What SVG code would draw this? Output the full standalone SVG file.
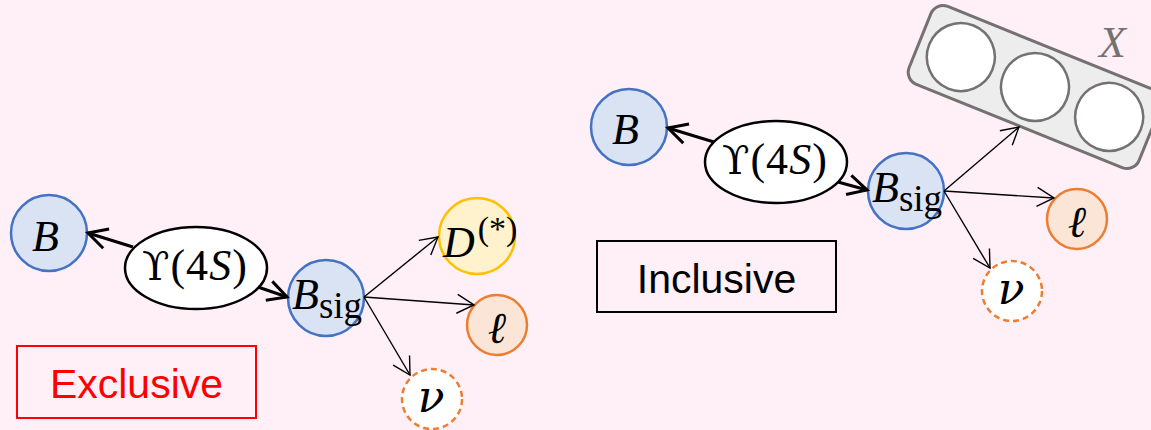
<svg xmlns="http://www.w3.org/2000/svg" width="1151" height="430" viewBox="0 0 1151 430">
  <style>
    .bmeson { fill: #DAE3F3; stroke: #4472C4; stroke-width: 2.5; }
    .upsilon { fill: #FFFFFF; stroke: #000000; stroke-width: 2.5; }
    .dmeson { fill: #FFF2CC; stroke: #FFC000; stroke-width: 2.5; }
    .lepton { fill: #FBE5D6; stroke: #ED7D31; stroke-width: 2.5; }
    .nu { fill: #FFFFFF; stroke: #ED7D31; stroke-width: 2.5; stroke-dasharray: 6 4; }
    .math { font-family: "Liberation Serif", "DejaVu Serif", serif; font-size: 44px; fill: #000000; }
    .it { font-style: italic; }
    .greek { font-family: "DejaVu Serif", serif; }
    .thick { fill: none; stroke: #000000; stroke-width: 3; marker-end: url(#headThick); }
    .thin { fill: none; stroke: #000000; stroke-width: 1.4; marker-end: url(#headThin); }
    .label { font-family: "Liberation Sans", Arial, sans-serif; font-size: 41px; text-anchor: middle; }
  </style>
  <defs>
    <marker id="headThick" markerUnits="userSpaceOnUse" markerWidth="30" markerHeight="30" viewBox="-25 -15 30 30" refX="0" refY="0" orient="auto" overflow="visible">
      <path d="M-19,-10 L0,0 L-19,10" fill="none" stroke="#000000" stroke-width="3" stroke-linejoin="miter"/>
    </marker>
    <marker id="headThin" markerUnits="userSpaceOnUse" markerWidth="30" markerHeight="30" viewBox="-25 -15 30 30" refX="0" refY="0" orient="auto" overflow="visible">
      <path d="M-17,-9.5 L0,0 L-17,9.5" fill="none" stroke="#000000" stroke-width="1.4"/>
    </marker>
  </defs>

  <rect x="0" y="0" width="1151" height="430" fill="#FFF0F8"/>

  <!-- Exclusive decay -->
  <g id="ex-B">
    <circle class="bmeson" cx="49" cy="233" r="38"/>
    <text class="math it" x="32" y="251">B</text>
  </g>
  <g id="ex-Y4S">
    <ellipse class="upsilon" cx="196" cy="268" rx="71" ry="41"/>
    <text class="math" x="142" y="280" letter-spacing="1"><tspan class="greek" font-size="40">ϒ</tspan>(4<tspan class="it">S</tspan>)</text>
  </g>
  <g id="ex-Bsig">
    <circle class="bmeson" cx="326" cy="298" r="38"/>
    <text class="math" x="292" y="309"><tspan class="it">B</tspan><tspan font-size="37" dy="9">sig</tspan></text>
  </g>
  <g id="ex-D">
    <circle class="dmeson" cx="477" cy="236" r="38"/>
    <text class="math" x="443" y="257"><tspan class="it">D</tspan><tspan font-size="34" dy="-17" dx="3">(*)</tspan></text>
  </g>
  <g id="ex-lepton">
    <circle class="lepton" cx="497" cy="325" r="30"/>
    <text class="math it" x="497" y="343" text-anchor="middle">ℓ</text>
  </g>
  <g id="ex-nu">
    <circle class="nu" cx="432" cy="399" r="30"/>
    <text class="math it greek" x="431" y="412" text-anchor="middle" font-size="40">ν</text>
  </g>
  <g id="ex-label">
    <rect x="17" y="346" width="239" height="72" fill="none" stroke="#FF0000" stroke-width="2"/>
    <text class="label" x="136.5" y="398" fill="#FF0000">Exclusive</text>
  </g>

  <!-- Inclusive decay -->
  <g id="in-B">
    <circle class="bmeson" cx="629" cy="127" r="38"/>
    <text class="math it" x="612" y="144">B</text>
  </g>
  <g id="in-Y4S">
    <ellipse class="upsilon" cx="776" cy="162" rx="71" ry="41"/>
    <text class="math" x="722" y="174" letter-spacing="1"><tspan class="greek" font-size="40">ϒ</tspan>(4<tspan class="it">S</tspan>)</text>
  </g>
  <g id="in-Bsig">
    <circle class="bmeson" cx="906" cy="191" r="38"/>
    <text class="math" x="872" y="202"><tspan class="it">B</tspan><tspan font-size="37" dy="9">sig</tspan></text>
  </g>
  <g id="in-X">
    <g transform="translate(1035,87) rotate(22)">
      <rect x="-124" y="-42" width="248" height="84" rx="13" fill="#EDEDED" stroke="#767171" stroke-width="3"/>
      <circle cx="-80" cy="0" r="34" fill="#FFFFFF" stroke="#767171" stroke-width="2.5"/>
      <circle cx="0" cy="0" r="34" fill="#FFFFFF" stroke="#767171" stroke-width="2.5"/>
      <circle cx="80" cy="0" r="34" fill="#FFFFFF" stroke="#767171" stroke-width="2.5"/>
    </g>
    <text class="math it" x="1099" y="57" style="fill:#767171">X</text>
  </g>
  <g id="in-lepton">
    <circle class="lepton" cx="1077" cy="219" r="30"/>
    <text class="math it" x="1077" y="237" text-anchor="middle">ℓ</text>
  </g>
  <g id="in-nu">
    <circle class="nu" cx="1012" cy="291" r="30"/>
    <text class="math it greek" x="1011" y="304" text-anchor="middle" font-size="40">ν</text>
  </g>
  <g id="in-label">
    <rect x="597" y="241" width="239" height="71" fill="none" stroke="#000000" stroke-width="2"/>
    <text class="label" x="716.5" y="293" fill="#000000">Inclusive</text>
  </g>

  <!-- connectors -->
  <g id="connectors">
    <path class="thick" d="M133,247 L88,233"/>
    <path class="thick" d="M258,287 L287,297"/>
    <path class="thin" d="M364,297 L438,237"/>
    <path class="thin" d="M364,297 L474,305"/>
    <path class="thin" d="M364,297 L410,375"/>

    <path class="thick" d="M714,142 L668,128"/>
    <path class="thick" d="M838,182 L867,190"/>
    <path class="thin" d="M944,191 L1019,127"/>
    <path class="thin" d="M944,191 L1054,198"/>
    <path class="thin" d="M944,191 L990,268"/>
  </g>
</svg>
